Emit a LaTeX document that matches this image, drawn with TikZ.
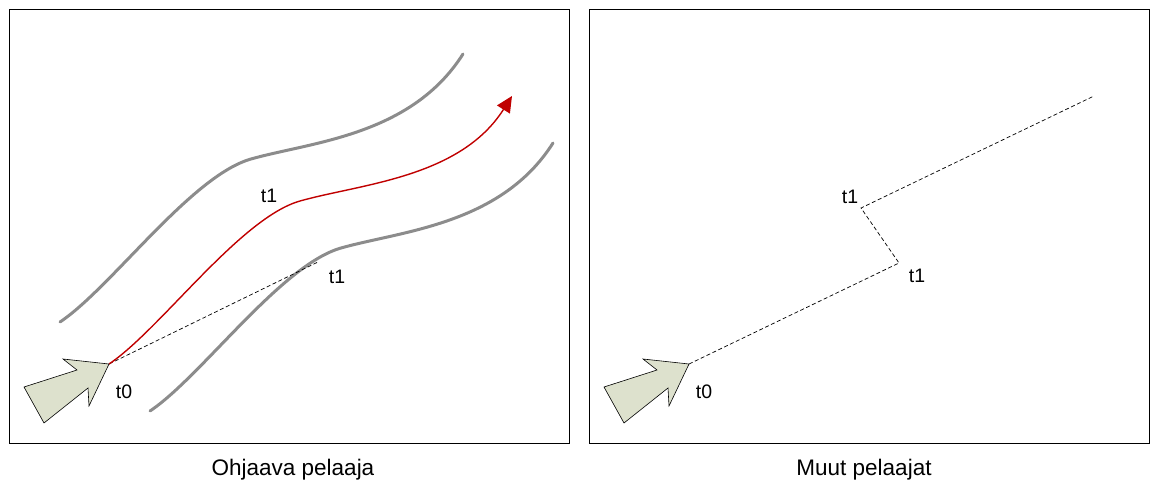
\documentclass[tikz,border=0pt]{standalone}
\usepackage{fontspec}
\setmainfont{Liberation Sans}
\usetikzlibrary{arrows.meta}
\definecolor{arrowfill}{RGB}{221,225,205}
\definecolor{trackgray}{RGB}{140,140,140}
\definecolor{pathred}{RGB}{192,0,0}
\newcommand{\routecurve}{(0,0) .. controls (51,-34) and (131,-146) .. (191,-163) .. controls (251,-180) and (351,-186) .. (403,-268)}
\begin{document}
\begin{tikzpicture}[x=1pt,y=-1pt,
  panel/.style={draw=black, line width=0.8pt},
  bigarrow/.style={draw=black, fill=arrowfill, line width=0.6pt, line join=miter},
  track/.style={draw=trackgray, line width=3pt, line cap=round},
  route/.style={draw=pathred, line width=1.4pt, -{Triangle[length=16pt,width=15pt]}},
  dashline/.style={draw=black, dash pattern=on 4pt off 2.5pt, line width=0.7pt},
  lbl/.style={font=\fontsize{19.5}{22}\selectfont, inner sep=0pt},
  caption/.style={font=\fontsize{22.5}{26}\selectfont, inner sep=0pt}]
\useasboundingbox (0,0) rectangle (1155,485);

% panels
\draw[panel] (9,9) rectangle (569,443);
\draw[panel] (589,9) rectangle (1149,443);

% left panel
\begin{scope}[shift={(60,322)}]
  \draw[track] \routecurve;
\end{scope}
\begin{scope}[shift={(150,411)}]
  \draw[track] \routecurve;
\end{scope}

\coordinate (tipL) at (109,364);
\coordinate (markL) at (318,262);
\draw[dashline] (tipL) -- (markL);
\begin{scope}[shift={(109,364)}]
  \draw[route] \routecurve;
\end{scope}
\draw[bigarrow] (tipL) -- (89,406) -- (88,388) -- (44,423) -- (24,387) -- (77,370) -- (63,359) -- cycle;

\node[lbl] (t0L) at (124,392) {t0};
\node[lbl] (t1La) at (269,196) {t1};
\node[lbl] (t1Lb) at (337,277) {t1};
\node[caption] (capL) at (293,470) {Ohjaava pelaaja};

% right panel
\coordinate (tipR) at (689,364);
\coordinate (markR1) at (899,263);
\coordinate (markR2) at (861,208);
\coordinate (endR) at (1094,96);
\draw[dashline] (tipR) -- (markR1) -- (markR2) -- (endR);
\draw[bigarrow] (tipR) -- (669,406) -- (668,388) -- (624,423) -- (604,387) -- (657,370) -- (643,359) -- cycle;

\node[lbl] (t0R) at (704,392) {t0};
\node[lbl] (t1Ra) at (850,197) {t1};
\node[lbl] (t1Rb) at (917,276) {t1};
\node[caption] (capR) at (864,470) {Muut pelaajat};
\end{tikzpicture}
\end{document}
